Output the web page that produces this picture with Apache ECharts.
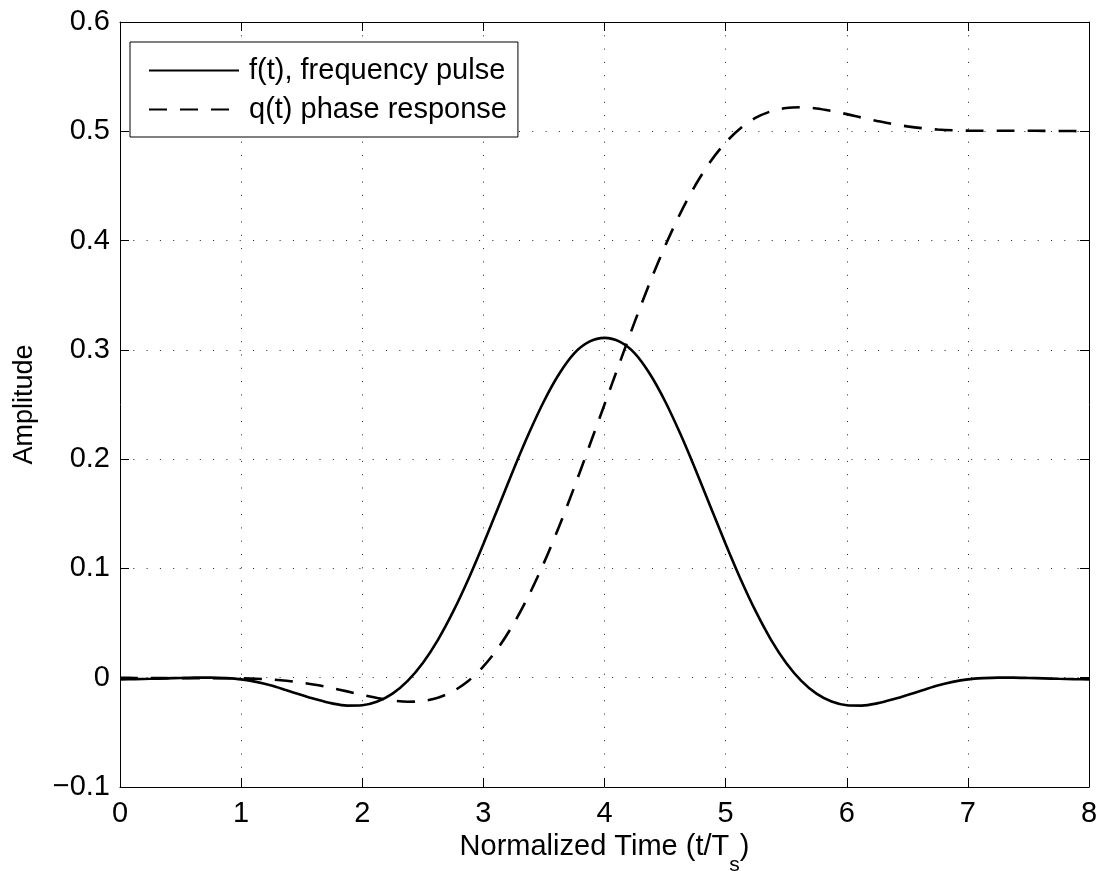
<!DOCTYPE html>
<html>
<head>
<meta charset="utf-8">
<script src="https://cdn.jsdelivr.net/npm/echarts@6/dist/echarts.min.js"></script>
<style>
html,body{margin:0;padding:0;background:#fff;}
#chart{width:1099px;height:871px;}
</style>
</head>
<body>
<div id="chart"></div>
<script>
// normalized time samples (t/Ts)
const tValues = [0,0.125,0.25,0.375,0.5,0.625,0.75,0.875,1,1.125,1.25,1.375,1.5,1.625,1.75,1.875,
                 2,2.125,2.25,2.375,2.5,2.625,2.75,2.875,3,3.125,3.25,3.375,3.5,3.625,3.75,3.875,
                 4,4.125,4.25,4.375,4.5,4.625,4.75,4.875,5,5.125,5.25,5.375,5.5,5.625,5.75,5.875,
                 6,6.125,6.25,6.375,6.5,6.625,6.75,6.875,7,7.125,7.25,7.375,7.5,7.625,7.75,7.875,8];
// f(t), frequency pulse
const fValues = [-0.0015,-0.0013,-0.0010,-0.0006,-0.0002,0.0001,0.0001,-0.0004,-0.0015,-0.0038,-0.0072,-0.0115,
                 -0.0158,-0.0200,-0.0235,-0.0255,-0.0252,-0.0218,-0.0146,-0.0029,0.0135,0.0347,0.0604,0.0899,
                 0.1224,0.1565,0.1908,0.2234,0.2530,0.2779,0.2968,0.3075,0.3110,
                 0.3075,0.2968,0.2779,0.2530,0.2234,0.1908,0.1565,0.1224,0.0899,0.0604,0.0347,0.0135,
                 -0.0029,-0.0146,-0.0218,-0.0252,-0.0255,-0.0235,-0.0200,-0.0158,-0.0115,-0.0072,-0.0038,
                 -0.0015,-0.0004,0.0001,0.0001,-0.0002,-0.0006,-0.0010,-0.0013,-0.0015];
// q(t), phase response
const qValues = [0,-0.0002,-0.0003,-0.0004,-0.0005,-0.0005,-0.0005,-0.0005,-0.0006,-0.0009,-0.0016,-0.0028,
                 -0.0045,-0.0067,-0.0095,-0.0125,-0.0157,-0.0186,-0.0209,-0.0220,-0.0213,-0.0183,-0.0124,-0.0030,
                 0.0103,0.0277,0.0494,0.0753,0.1051,0.1383,0.1742,0.2120,0.2500,
                 0.2881,0.3258,0.3617,0.3949,0.4247,0.4506,0.4723,0.4897,0.5030,0.5124,0.5183,0.5213,
                 0.5220,0.5209,0.5186,0.5157,0.5125,0.5095,0.5067,0.5045,0.5028,0.5016,0.5009,
                 0.5006,0.5005,0.5005,0.5005,0.5005,0.5004,0.5003,0.5002,0.5000];
const seriesNames = ['f(t), frequency pulse', 'q(t) phase response'];
const xTicks = [0,1,2,3,4,5,6,7,8];
const yTicks = [-0.1,0,0.1,0.2,0.3,0.4,0.5,0.6];

const FONT = 'Liberation Sans, Arial, Helvetica, sans-serif';
const fmtY = v => v < 0 ? '\u2212' + String(-v) : String(v);

const chart = echarts.init(document.getElementById('chart'), null, {renderer: 'canvas'});
const baseX = {
  type: 'value', min: xTicks[0], max: xTicks[xTicks.length-1], interval: 1
};
const baseY = {
  type: 'value', min: yTicks[0], max: yTicks[yTicks.length-1], interval: 0.1
};
const lineAxis = {show: true, onZero: false, lineStyle: {color: '#000', width: 1}};
const tick = {show: true, inside: true, length: 9, lineStyle: {color: '#000', width: 1}};
const grid = {show: true, lineStyle: {color: '#222', width: 1, type: [1, 12.3]}};

chart.setOption({
  animation: false,
  backgroundColor: '#fff',
  grid: {left: 120, right: 10, top: 22, bottom: 84, containLabel: false, outerBoundsMode: 'none'},
  legend: {
    orient: 'vertical', left: 130, top: 42,
    backgroundColor: '#fff', borderColor: '#000', borderWidth: 1,
    padding: [14, 11, 13, 18],
    itemWidth: 90, itemHeight: 1, itemGap: 10,
    textStyle: {fontFamily: FONT, fontSize: 29, color: '#000', padding: [0, 0, 0, 5]},
    data: seriesNames
  },
  xAxis: [
    Object.assign({}, baseX, {
      position: 'bottom',
      axisLine: lineAxis, axisTick: tick, splitLine: grid,
      axisLabel: {fontFamily: FONT, fontSize: 29, color: '#000', margin: 12,
                  formatter: v => String(v)},
      name: 'Normalized Time (t/T{sub|s})',
      nameLocation: 'middle', nameGap: 45,
      nameTextStyle: {fontFamily: FONT, fontSize: 29, color: '#000',
        rich: {sub: {fontFamily: FONT, fontSize: 21, color: '#000', verticalAlign: 'bottom', padding: [0, 0, -14, 0]}}}
    }),
    Object.assign({}, baseX, {
      position: 'top',
      axisLine: lineAxis, axisTick: tick, splitLine: {show: false},
      axisLabel: {show: false}
    })
  ],
  yAxis: [
    Object.assign({}, baseY, {
      position: 'left',
      axisLine: lineAxis, axisTick: tick, splitLine: grid,
      axisLabel: {fontFamily: FONT, fontSize: 29, color: '#000', margin: 10, formatter: fmtY},
      name: 'Amplitude', nameLocation: 'middle', nameGap: 82, nameRotate: 90,
      nameTextStyle: {fontFamily: FONT, fontSize: 27, color: '#000'}
    }),
    Object.assign({}, baseY, {
      position: 'right',
      axisLine: lineAxis, axisTick: tick, splitLine: {show: false},
      axisLabel: {show: false}
    })
  ],
  series: [
    {
      name: seriesNames[0], type: 'line', xAxisIndex: 0, yAxisIndex: 0,
      data: tValues.map((t, i) => [t, fValues[i]]),
      smooth: 0.3, symbol: 'none',
      lineStyle: {color: '#000', width: 2.6, type: 'solid'},
      itemStyle: {color: '#000'}
    },
    {
      name: seriesNames[1], type: 'line', xAxisIndex: 0, yAxisIndex: 0,
      data: tValues.map((t, i) => [t, qValues[i]]),
      smooth: 0.3, symbol: 'none',
      lineStyle: {color: '#000', width: 2.6, type: [18, 13]},
      itemStyle: {color: '#000'}
    }
  ]
});
</script>
</body>
</html>
